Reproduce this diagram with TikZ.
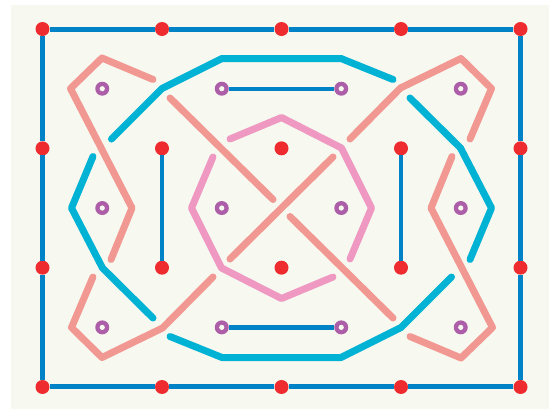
\documentclass[tikz,border=0pt]{standalone}
\definecolor{bgc}{HTML}{F7F8EF}
\definecolor{bordblue}{HTML}{0082C6}
\definecolor{cyanc}{HTML}{00B2D3}
\definecolor{salmonc}{HTML}{F19892}
\definecolor{pinkc}{HTML}{EE98C2}
\definecolor{dotred}{HTML}{EE2B2F}
\definecolor{ringpurple}{HTML}{AC5FA8}
\begin{document}
\begin{tikzpicture}[x=0.05cm,y=-0.05cm,
  dot/.style={circle,fill=dotred,inner sep=0pt,minimum size=0.7cm},
  ring/.style={circle,fill=ringpurple,inner sep=0pt,minimum size=0.7cm,
    path picture={\fill[bgc] (path picture bounding box.center) circle (0.13cm);}},
  bord/.style={draw=bordblue,line width=0.25cm},
  innerblue/.style={draw=bordblue,line width=0.22cm},
  cyanline/.style={draw=cyanc,line width=0.35cm,line cap=round,line join=round},
  salmonline/.style={draw=salmonc,line width=0.35cm,line cap=round,line join=round},
  pinkline/.style={draw=pinkc,line width=0.35cm,line cap=round,line join=round}]
\useasboundingbox (0,0) rectangle (549,409);
\fill[bgc] (11,5) rectangle (549,409);
% grid dots
\foreach \i in {0,...,4} \foreach \j in {0,...,3}
  \node[dot] (r\i\j) at ({42.5+119.5*\i},{29+119.33*\j}) {};
% rings
\foreach \i in {0,...,3} \foreach \j in {0,...,2}
  \node[ring] (p\i\j) at ({102.25+119.5*\i},{88.7+119.33*\j}) {};
% border
\draw[bord] (r00) -- (r10) -- (r20) -- (r30) -- (r40) -- (r41) -- (r42) -- (r43)
  -- (r33) -- (r23) -- (r13) -- (r03) -- (r02) -- (r01) -- (r00);
% inner blue
\draw[innerblue] (r11) -- (r12);
\draw[innerblue] (r31) -- (r32);
\draw[innerblue] (p10) -- (p20);
\draw[innerblue] (p12) -- (p22);
% cyan top
\coordinate (ct1) at (111.5,139); \coordinate (ct2) at (162,88.5);
\coordinate (ct3) at (222,58.5); \coordinate (ct4) at (341,58.5);
\coordinate (ct5) at (393,79.5);
\draw[cyanline] (ct1) -- (ct2) -- (ct3) -- (ct4) -- (ct5);
% cyan bottom
\coordinate (cb1) at (451.5,277); \coordinate (cb2) at (401,327.5);
\coordinate (cb3) at (341,357.5); \coordinate (cb4) at (222,357.5);
\coordinate (cb5) at (170,336.5);
\draw[cyanline] (cb1) -- (cb2) -- (cb3) -- (cb4) -- (cb5);
% cyan left
\coordinate (cl1) at (93,156.5); \coordinate (cl2) at (71.5,208);
\coordinate (cl3) at (102.5,268); \coordinate (cl4) at (153,318);
\draw[cyanline] (cl1) -- (cl2) -- (cl3) -- (cl4);
% cyan right
\coordinate (cr1) at (470,259.5); \coordinate (cr2) at (491.5,208);
\coordinate (cr3) at (460.5,148); \coordinate (cr4) at (410,98);
\draw[cyanline] (cr1) -- (cr2) -- (cr3) -- (cr4);
% salmon top-left
\coordinate (stl1) at (153,79.5); \coordinate (stl2) at (102,58);
\coordinate (stl3) at (70.5,88.5); \coordinate (stl4) at (132,208);
\coordinate (stl5) at (111,259.5);
\draw[salmonline] (stl1) -- (stl2) -- (stl3) -- (stl4) -- (stl5);
% salmon bottom-right
\coordinate (sbr1) at (410,336.5); \coordinate (sbr2) at (461,358);
\coordinate (sbr3) at (492.5,327.5); \coordinate (sbr4) at (431,208);
\coordinate (sbr5) at (452,156.5);
\draw[salmonline] (sbr1) -- (sbr2) -- (sbr3) -- (sbr4) -- (sbr5);
% salmon bottom-left
\coordinate (sbl1) at (93,277); \coordinate (sbl2) at (71.5,327.5);
\coordinate (sbl3) at (102,357.5); \coordinate (sbl4) at (162.5,328);
\coordinate (sbl5) at (213,277);
\draw[salmonline] (sbl1) -- (sbl2) -- (sbl3) -- (sbl4) -- (sbl5);
% salmon top-right
\coordinate (str1) at (470,139); \coordinate (str2) at (491.5,88.5);
\coordinate (str3) at (461,58.5); \coordinate (str4) at (400.5,88);
\coordinate (str5) at (350,139);
\draw[salmonline] (str1) -- (str2) -- (str3) -- (str4) -- (str5);
% salmon diagonals
\coordinate (da1) at (170,98); \coordinate (da2) at (273,199.5);
\draw[salmonline] (da1) -- (da2);
\coordinate (dc1) at (393,318); \coordinate (dc2) at (290,216.5);
\draw[salmonline] (dc1) -- (dc2);
\coordinate (db1) at (333,157); \coordinate (db2) at (230,259);
\draw[salmonline] (db1) -- (db2);
% pink octagon
\coordinate (pk1) at (230,139); \coordinate (pk2) at (281.5,117.5);
\coordinate (pk3) at (341.5,148); \coordinate (pk4) at (371.5,208);
\coordinate (pk5) at (350,259);
\draw[pinkline] (pk1) -- (pk2) -- (pk3) -- (pk4) -- (pk5);
\coordinate (pk6) at (333,277); \coordinate (pk7) at (281.5,298.5);
\coordinate (pk8) at (221.5,268); \coordinate (pk9) at (191.5,208);
\coordinate (pk10) at (213,157);
\draw[pinkline] (pk6) -- (pk7) -- (pk8) -- (pk9) -- (pk10);
\end{tikzpicture}
\end{document}
